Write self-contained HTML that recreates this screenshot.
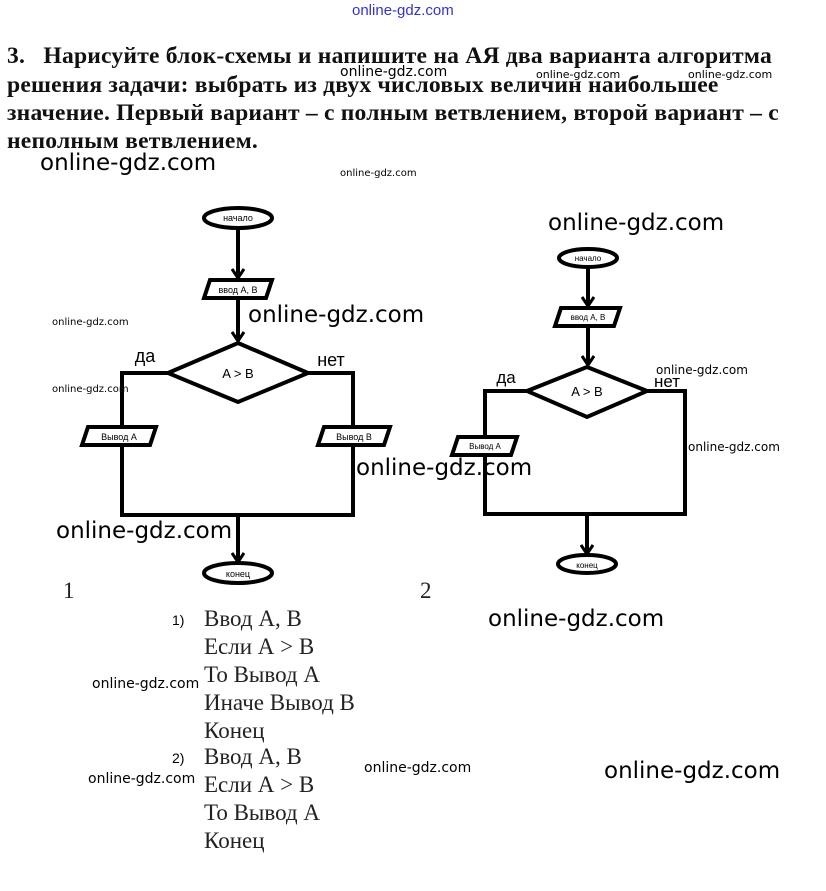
<!DOCTYPE html>
<html><head><meta charset="utf-8"><style>
body{margin:0;background:#fff;width:826px;height:891px;overflow:hidden;position:relative;font-family:"Liberation Sans",sans-serif}
.t{position:absolute;white-space:nowrap}
.w{font-family:"DejaVu Sans","Liberation Sans",sans-serif;color:#000}
.h{font-family:"Liberation Serif",serif;font-weight:bold;font-size:23.6px;color:#111;letter-spacing:0.2px}
.a{font-family:"Liberation Serif",serif;font-size:23px;color:#222}
</style></head><body>
<svg width="826" height="891" style="position:absolute;left:0;top:0" font-family="Liberation Sans, sans-serif">
<defs><marker id="ar" markerWidth="14" markerHeight="14" refX="10" refY="7" orient="auto" markerUnits="userSpaceOnUse"><path d="M1,1 L10,7 L1,13" fill="none" stroke="#000" stroke-width="3"/></marker></defs>
<g stroke="#000" stroke-width="4" fill="none">
<ellipse cx="238" cy="218" rx="34" ry="10" fill="#fff"/>
<line x1="238" y1="228" x2="238" y2="278" marker-end="url(#ar)"/>
<polygon points="210,280 272,280 266,298 204,298" fill="#fff"/>
<line x1="238" y1="298" x2="238" y2="341" marker-end="url(#ar)"/>
<polygon points="238,343 308,373 238,402 168,373" fill="#fff"/>
<polyline points="168,373 122,373 122,515 353,515 353,373 308,373"/>
<polygon points="88,427 156,427 150,445 82,445" fill="#fff"/>
<polygon points="324,427 390,427 384,445 318,445" fill="#fff"/>
<line x1="238" y1="515" x2="238" y2="562" marker-end="url(#ar)"/>
<ellipse cx="238" cy="573" rx="34" ry="10" fill="#fff"/>
<ellipse cx="588" cy="258" rx="29" ry="9" fill="#fff"/>
<line x1="588" y1="267" x2="588" y2="306" marker-end="url(#ar)"/>
<polygon points="561,308 620,308 614,326 555,326" fill="#fff"/>
<line x1="588" y1="326" x2="588" y2="365" marker-end="url(#ar)"/>
<polygon points="587,367 647,391 587,417 527,391" fill="#fff"/>
<polyline points="527,391 485,391 485,514 685,514 685,391 647,391"/>
<polygon points="458,437 517,437 511,455 452,455" fill="#fff"/>
<line x1="587" y1="514" x2="587" y2="554" marker-end="url(#ar)"/>
<ellipse cx="587" cy="564" rx="29" ry="9" fill="#fff"/>
</g>
<g fill="#000" text-anchor="middle">
<text x="238" y="221" font-size="9">начало</text>
<text x="238" y="293" font-size="9">ввод А, В</text>
<text x="238" y="378" font-size="13">A &gt; B</text>
<text x="119" y="440" font-size="9">Вывод А</text>
<text x="354" y="440" font-size="9">Вывод В</text>
<text x="238" y="577" font-size="9">конец</text>
<text x="588" y="261" font-size="8">начало</text>
<text x="588" y="320" font-size="8">ввод А, В</text>
<text x="587" y="396" font-size="13">A &gt; B</text>
<text x="485" y="449" font-size="8">Вывод А</text>
<text x="587" y="568" font-size="8">конец</text>
<text x="145" y="362" font-size="18">да</text>
<text x="331" y="366" font-size="18">нет</text>
<text x="506" y="383" font-size="17">да</text>
<text x="667" y="387" font-size="17">нет</text>
</g>
</svg>
<div class="t" style="left:352px;top:2px;font-size:15px;color:#3333cc">online-gdz.com</div>
<div class="t h" style="left:7px;top:43px">3.&nbsp;&nbsp; Нарисуйте блок-схемы и напишите на АЯ два варианта алгоритма</div>
<div class="t h" style="left:7px;top:72px">решения задачи: выбрать из двух числовых величин наибольшее</div>
<div class="t h" style="left:7px;top:100px">значение. Первый вариант – с полным ветвлением, второй вариант – с</div>
<div class="t h" style="left:7px;top:128px">неполным ветвлением.</div>
<div class="t w" style="left:340px;top:64px;font-size:14px">online-gdz.com</div>
<div class="t w" style="left:536px;top:68px;font-size:11px">online-gdz.com</div>
<div class="t w" style="left:688px;top:68px;font-size:11px">online-gdz.com</div>
<div class="t w" style="left:40px;top:150px;font-size:23px">online-gdz.com</div>
<div class="t w" style="left:340px;top:168px;font-size:10px">online-gdz.com</div>
<div class="t w" style="left:548px;top:210px;font-size:23px">online-gdz.com</div>
<div class="t w" style="left:52px;top:317px;font-size:10px">online-gdz.com</div>
<div class="t w" style="left:248px;top:302px;font-size:23px">online-gdz.com</div>
<div class="t w" style="left:52px;top:384px;font-size:10px">online-gdz.com</div>
<div class="t w" style="left:656px;top:363px;font-size:12px">online-gdz.com</div>
<div class="t w" style="left:688px;top:440px;font-size:12px">online-gdz.com</div>
<div class="t w" style="left:356px;top:455px;font-size:23px">online-gdz.com</div>
<div class="t w" style="left:56px;top:518px;font-size:23px">online-gdz.com</div>
<div class="t a" style="left:63px;top:578px">1</div>
<div class="t a" style="left:420px;top:578px">2</div>
<div class="t w" style="left:488px;top:606px;font-size:23px">online-gdz.com</div>
<div class="t" style="left:172px;top:612px;font-size:14px">1)</div>
<div class="t a" style="left:204px;top:605px;line-height:28px">Ввод А, В<br>Если А &gt; В<br>То Вывод А<br>Иначе Вывод В<br>Конец</div>
<div class="t w" style="left:92px;top:676px;font-size:14px">online-gdz.com</div>
<div class="t" style="left:172px;top:750px;font-size:14px">2)</div>
<div class="t a" style="left:204px;top:743px;line-height:28px">Ввод А, В<br>Если А &gt; В<br>То Вывод А<br>Конец</div>
<div class="t w" style="left:88px;top:771px;font-size:14px">online-gdz.com</div>
<div class="t w" style="left:364px;top:760px;font-size:14px">online-gdz.com</div>
<div class="t w" style="left:604px;top:758px;font-size:23px">online-gdz.com</div>
</body></html>
